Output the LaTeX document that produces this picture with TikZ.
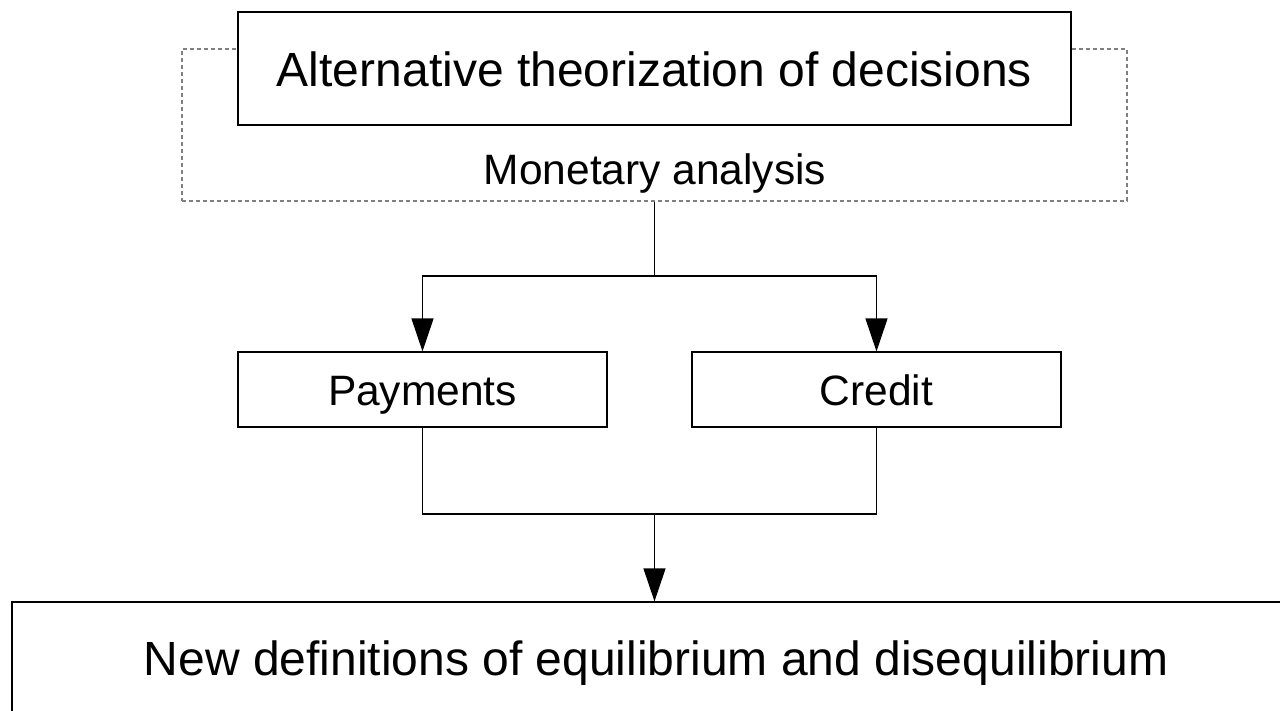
\documentclass[tikz,border=0pt]{standalone}
\usepackage{fontspec}
\setmainfont{Liberation Sans}
\usetikzlibrary{arrows.meta}

\tikzset{
  box/.style={draw=black, line width=1.2pt, fill=white, inner sep=0pt, align=center},
  frame/.style={draw=gray, line width=1.2pt, dash pattern=on 4pt off 3pt, inner sep=0pt},
  wire/.style={draw=black, line width=1.2pt},
  flow/.style={wire, -{Triangle[width=22pt,length=33pt]}},
  % text boxes sized on the letters above the baseline so that the caps sit centred
  bigtext/.style={font=\fontsize{48}{52}\selectfont, text height=35pt, text depth=0pt},
  midtext/.style={font=\fontsize{42.5}{46}\selectfont, text height=31pt, text depth=0pt},
}

\begin{document}
\begin{tikzpicture}[x=1pt, y=-1pt]
  \useasboundingbox (0,0) rectangle (1280,710);
  \clip (0,0) rectangle (1280,710);

  % dotted frame around the decisions box and the monetary analysis label
  \node[frame, minimum width=945pt, minimum height=152pt] (frame) at (654.5,125) {};
  \node[midtext, inner sep=0pt] (monetary) at (655,169) {Monetary analysis};

  % top box
  \node[box, bigtext, minimum width=833pt, minimum height=113pt] (decisions) at (654.5,68.5)
    {Alternative theorization of decisions};

  % middle boxes
  \node[box, midtext, minimum width=369pt, minimum height=75pt] (payments) at (422.5,389.5) {Payments};
  \node[box, midtext, minimum width=369pt, minimum height=75pt] (credit) at (876.5,389.5) {Credit};

  % bottom box, running past the right and lower edges
  \node[box, bigtext, minimum width=1288pt, minimum height=112pt] (result) at (656,658)
    {New definitions of equilibrium and disequilibrium};

  % branching connectors
  \coordinate (split) at (654.5,276);
  \coordinate (join) at (654.5,514);
  \draw[wire] (frame.south) -- (split);
  \draw[flow] (split) -| (payments.north);
  \draw[flow] (split) -| (credit.north);
  \draw[wire] (payments.south) |- (join) -| (credit.south);
  \draw[flow] (join) -- (join |- result.north);
\end{tikzpicture}
\end{document}
